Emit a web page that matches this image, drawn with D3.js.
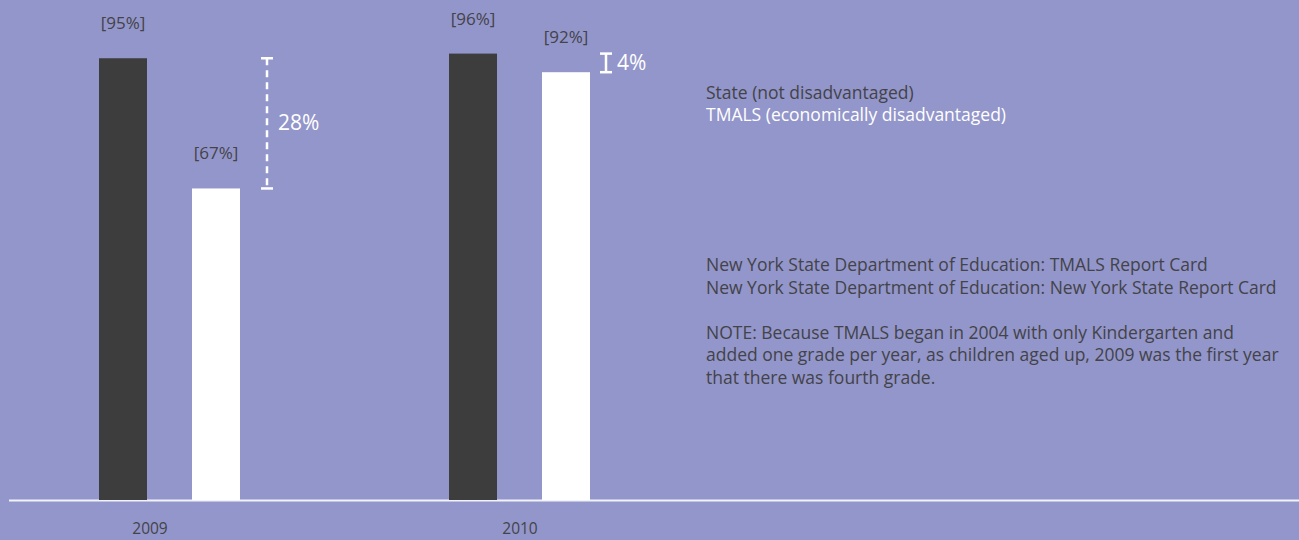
<!DOCTYPE html>
<html>
<head>
<meta charset="utf-8">
<script src="https://cdn.jsdelivr.net/npm/d3@7"></script>
<style>
  body { margin: 0; background: #9396ca; }
  svg { display: block; font-family: "Open Sans", sans-serif; }
</style>
</head>
<body>
<svg width="1299" height="540"></svg>
<script>
var years = ["2009", "2010"];
var stateValues = [95, 96];
var tmalsValues = [67, 92];
var legendLabels = ["State (not disadvantaged)", "TMALS (economically disadvantaged)"];
var sourceLines = [
  "New York State Department of Education: TMALS Report Card",
  "New York State Department of Education: New York State Report Card",
  "",
  "NOTE: Because TMALS began in 2004 with only Kindergarten and",
  "added one grade per year, as children aged up, 2009 was the first year",
  "that there was fourth grade."
];

var dark = "#3d3d3d",
    textDark = "#434349",
    white = "#ffffff";

var svg = d3.select("svg"),
    baseline = 500;

var data = years.map(function(y, i) {
  return {year: y, state: stateValues[i], tmals: tmalsValues[i]};
});

// groups of bars, 350px apart
var x = d3.scaleBand()
    .domain(years)
    .range([99, 799])
    .paddingInner(0)
    .paddingOuter(0);

var inner = d3.scaleOrdinal()
    .domain(["state", "tmals"])
    .range([0, 93]);

var barWidth = 48;

// year labels sit on their own point scale
var xLabel = d3.scalePoint()
    .domain(years)
    .range([150, 520]);

var y = d3.scaleLinear()
    .domain([0, 100])
    .range([baseline, baseline - 465]);

// baseline
svg.append("line")
    .attr("x1", 9)
    .attr("x2", 1299)
    .attr("y1", baseline + 0.5)
    .attr("y2", baseline + 0.5)
    .attr("stroke", "#f2f2fa")
    .attr("stroke-width", 2);

var group = svg.selectAll(".year")
  .data(data)
  .enter().append("g")
    .attr("class", "year")
    .attr("transform", function(d) { return "translate(" + x(d.year) + ",0)"; });

["state", "tmals"].forEach(function(key) {
  group.append("rect")
      .attr("x", inner(key))
      .attr("y", function(d) { return y(d[key]); })
      .attr("width", barWidth)
      .attr("height", function(d) { return baseline - y(d[key]); })
      .attr("fill", key == "state" ? dark : white);

  group.append("text")
      .attr("x", inner(key) + barWidth / 2)
      .attr("y", function(d) { return y(d[key]) - 29; })
      .attr("text-anchor", "middle")
      .attr("font-size", 17)
      .attr("fill", textDark)
      .text(function(d) { return "[" + d[key] + "%]"; });
});

// difference brackets
group.each(function(d) {
  var g = d3.select(this),
      top = y(d.state),
      bottom = y(d.tmals),
      big = (bottom - top) > 40,
      cx = inner("tmals") + barWidth + (big ? 27 : 16);

  g.append("line")
      .attr("x1", cx).attr("x2", cx)
      .attr("y1", top).attr("y2", bottom)
      .attr("stroke", white)
      .attr("stroke-width", 2.5)
      .attr("stroke-dasharray", big ? "7,5" : null);

  [top, bottom].forEach(function(yy) {
    g.append("line")
        .attr("x1", cx - 6).attr("x2", cx + 6)
        .attr("y1", yy).attr("y2", yy)
        .attr("stroke", white)
        .attr("stroke-width", 2.5);
  });

  g.append("text")
      .attr("x", cx + 11)
      .attr("y", (top + bottom) / 2 + 7)
      .attr("font-size", 21)
      .attr("fill", white)
      .text((d.state - d.tmals) + "%");
});

// year labels
svg.selectAll(".year-label")
  .data(years)
  .enter().append("text")
    .attr("class", "year-label")
    .attr("x", function(d) { return xLabel(d); })
    .attr("y", 534)
    .attr("text-anchor", "middle")
    .attr("font-size", 15.5)
    .attr("fill", textDark)
    .text(function(d) { return d; });

// legend
svg.selectAll(".legend")
  .data(legendLabels)
  .enter().append("text")
    .attr("class", "legend")
    .attr("x", 706)
    .attr("y", function(d, i) { return 99 + i * 22; })
    .attr("font-size", 17.5)
    .attr("fill", function(d, i) { return i == 0 ? textDark : white; })
    .text(function(d) { return d; });

// sources and note
svg.selectAll(".source")
  .data(sourceLines)
  .enter().append("text")
    .attr("class", "source")
    .attr("x", 706)
    .attr("y", function(d, i) { return 271 + i * 22.6; })
    .attr("font-size", 17.5)
    .attr("fill", textDark)
    .text(function(d) { return d; });
</script>
</body>
</html>
